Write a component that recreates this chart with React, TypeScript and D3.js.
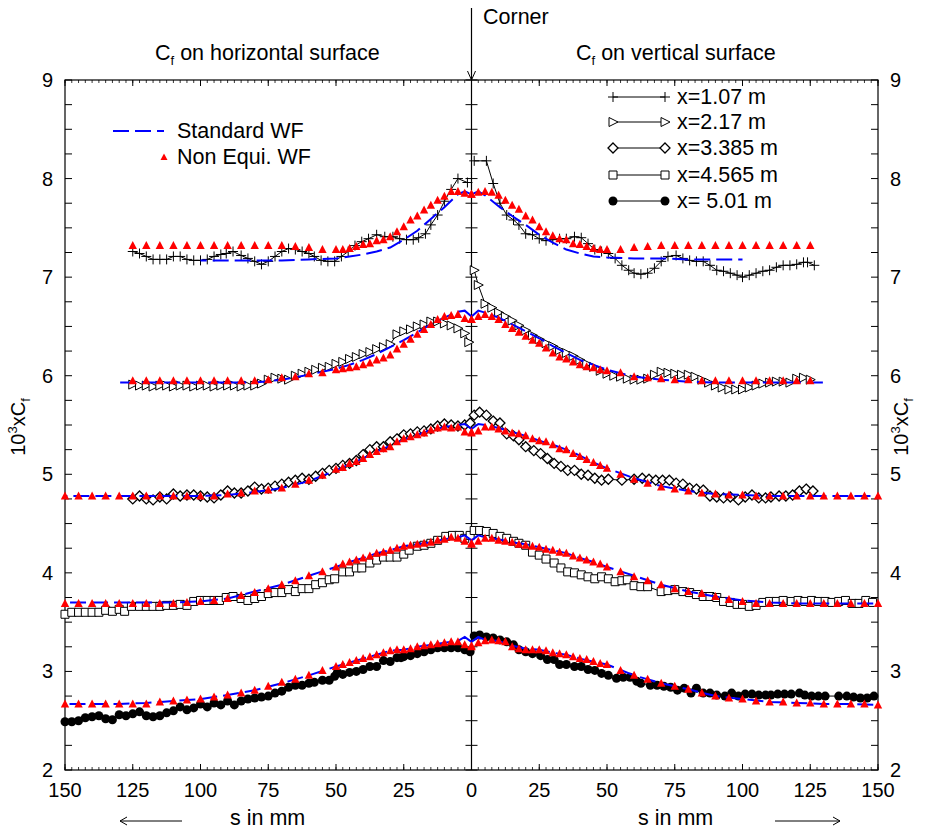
import React from 'react'
import * as d3 from 'd3'

// s positions (mm from the corner) of the Non Equi. WF points
const sNeq = [0, 2.5, 5, 7.5, 10, 12.5, 15, 17.5, 20, 22.5, 25, 27.5, 30, 32.5, 35, 37.5, 40, 42.5, 45, 47.5,
  50, 55, 60, 65, 70, 75, 80, 85, 90, 95, 100, 105, 110, 115, 120, 125, 130, 135, 140, 145, 150]
// s positions of the Standard WF curve
const sStd = [0, 2.5, 5, 10, 15, 20, 25, 30, 35, 40, 45, 50, 60, 70, 80, 90, 100, 110, 120, 130, 140, 150]

// Non Equi. WF (L = horizontal surface, R = vertical surface)
const neq1L = [7.84, 7.85, 7.87, 7.87, 7.82, 7.78, 7.73, 7.68, 7.62, 7.58, 7.51, 7.46, 7.41, 7.38, 7.37, 7.34, 7.33, 7.31, 7.29, 7.28,
  7.28, 7.28, 7.30, 7.31, 7.32, 7.32, 7.32, 7.32, 7.32, 7.32, 7.32, 7.32, 7.32, 7.32, 7.32, 7.32]
const neq1R = [7.84, 7.86, 7.87, 7.86, 7.83, 7.78, 7.73, 7.69, 7.62, 7.58, 7.51, 7.46, 7.42, 7.39, 7.38, 7.34, 7.33, 7.31, 7.29, 7.28,
  7.28, 7.28, 7.30, 7.31, 7.32, 7.32, 7.32, 7.32, 7.32, 7.32, 7.32, 7.32, 7.32, 7.32, 7.32, 7.32]
const neq2L = [6.57, 6.58, 6.62, 6.61, 6.60, 6.57, 6.52, 6.47, 6.42, 6.37, 6.32, 6.27, 6.21, 6.18, 6.16, 6.13, 6.11, 6.09, 6.08, 6.07,
  6.06, 6.03, 6.02, 5.99, 5.98, 5.96, 5.95, 5.95, 5.95, 5.95, 5.95, 5.95, 5.95, 5.95, 5.95, 5.95]
const neq2R = [6.57, 6.60, 6.62, 6.60, 6.57, 6.52, 6.48, 6.44, 6.40, 6.36, 6.33, 6.28, 6.23, 6.19, 6.17, 6.14, 6.11, 6.09, 6.08, 6.06,
  6.05, 6.03, 5.99, 5.98, 5.97, 5.96, 5.96, 5.95, 5.95, 5.95, 5.95, 5.95, 5.95, 5.95, 5.95, 5.95]
const neq3L = [5.42, 5.43, 5.48, 5.47, 5.48, 5.47, 5.45, 5.42, 5.40, 5.38, 5.36, 5.33, 5.28, 5.26, 5.23, 5.20, 5.16, 5.13, 5.11, 5.07,
  5.05, 4.99, 4.94, 4.90, 4.86, 4.84, 4.83, 4.81, 4.80, 4.78, 4.78, 4.78, 4.78, 4.78, 4.78, 4.78, 4.78, 4.78, 4.78, 4.78, 4.78]
const neq3R = [5.43, 5.44, 5.48, 5.48, 5.46, 5.44, 5.42, 5.41, 5.39, 5.36, 5.34, 5.33, 5.30, 5.26, 5.25, 5.21, 5.18, 5.15, 5.12, 5.09,
  5.06, 5.00, 4.95, 4.91, 4.87, 4.85, 4.83, 4.81, 4.80, 4.79, 4.79, 4.78, 4.78, 4.78, 4.78, 4.78, 4.78, 4.78, 4.78, 4.78, 4.78]
const neq4L = [4.29, 4.32, 4.35, 4.36, 4.34, 4.33, 4.31, 4.30, 4.29, 4.28, 4.27, 4.25, 4.23, 4.21, 4.20, 4.17, 4.15, 4.13, 4.11, 4.09,
  4.06, 4.01, 3.97, 3.92, 3.88, 3.84, 3.80, 3.77, 3.74, 3.72, 3.71, 3.70, 3.69, 3.69, 3.69, 3.69, 3.69, 3.69, 3.69, 3.69, 3.69]
const neq4R = [4.30, 4.32, 4.35, 4.35, 4.33, 4.32, 4.31, 4.29, 4.28, 4.27, 4.26, 4.24, 4.23, 4.21, 4.20, 4.17, 4.15, 4.13, 4.11, 4.09,
  4.06, 4.01, 3.96, 3.92, 3.88, 3.84, 3.81, 3.79, 3.76, 3.73, 3.71, 3.69, 3.69, 3.69, 3.69, 3.69, 3.69, 3.69, 3.69, 3.69, 3.69]
const neq5L = [3.25, 3.27, 3.30, 3.30, 3.29, 3.28, 3.27, 3.26, 3.25, 3.23, 3.22, 3.22, 3.21, 3.19, 3.17, 3.15, 3.13, 3.11, 3.09, 3.07,
  3.05, 3.01, 2.96, 2.92, 2.89, 2.85, 2.81, 2.78, 2.76, 2.74, 2.72, 2.71, 2.70, 2.69, 2.67, 2.67, 2.67, 2.67, 2.67, 2.67, 2.67]
const neq5R = [3.26, 3.29, 3.31, 3.32, 3.31, 3.30, 3.25, 3.23, 3.22, 3.22, 3.22, 3.21, 3.19, 3.18, 3.17, 3.15, 3.13, 3.12, 3.10, 3.08,
  3.07, 3.01, 2.96, 2.92, 2.88, 2.85, 2.82, 2.78, 2.75, 2.73, 2.72, 2.70, 2.69, 2.69, 2.68, 2.68, 2.67, 2.67, 2.67, 2.67, 2.66]

// Standard WF
const std1L = [7.84, 7.87, 7.84, 7.71, 7.59, 7.47, 7.38, 7.30, 7.26, 7.23, 7.21, 7.19, 7.18, 7.17, 7.17, 7.17, 7.17]
const std1R = [7.84, 7.87, 7.83, 7.72, 7.62, 7.53, 7.43, 7.35, 7.28, 7.24, 7.21, 7.20, 7.19, 7.19, 7.18, 7.18, 7.18]
const std2L = [6.60, 6.66, 6.65, 6.59, 6.52, 6.44, 6.36, 6.29, 6.22, 6.16, 6.11, 6.07, 6.01, 5.96, 5.93, 5.93, 5.93, 5.93, 5.93, 5.93]
const std2R = [6.60, 6.66, 6.64, 6.59, 6.52, 6.45, 6.38, 6.30, 6.23, 6.16, 6.11, 6.06, 5.99, 5.96, 5.94, 5.93, 5.93, 5.93, 5.93, 5.93]
const std3L = [5.46, 5.51, 5.50, 5.48, 5.45, 5.40, 5.35, 5.29, 5.23, 5.16, 5.10, 5.04, 4.93, 4.86, 4.82, 4.79, 4.78, 4.78, 4.78, 4.78, 4.78, 4.78]
const std3R = [5.46, 5.51, 5.50, 5.47, 5.43, 5.39, 5.34, 5.30, 5.25, 5.19, 5.12, 5.06, 4.96, 4.88, 4.83, 4.80, 4.79, 4.78, 4.78, 4.78, 4.78, 4.78]
const std4L = [4.33, 4.38, 4.36, 4.34, 4.31, 4.29, 4.27, 4.23, 4.20, 4.15, 4.11, 4.06, 3.97, 3.88, 3.81, 3.74, 3.71, 3.70, 3.70, 3.70, 3.70, 3.70]
const std4R = [4.33, 4.38, 4.36, 4.34, 4.31, 4.29, 4.26, 4.23, 4.20, 4.15, 4.11, 4.06, 3.97, 3.88, 3.81, 3.76, 3.72, 3.70, 3.69, 3.69, 3.69, 3.69]
const std5L = [3.30, 3.35, 3.31, 3.29, 3.27, 3.25, 3.22, 3.21, 3.17, 3.13, 3.09, 3.05, 2.96, 2.88, 2.81, 2.76, 2.72, 2.70, 2.68, 2.67, 2.67, 2.67]
const std5R = [3.30, 3.35, 3.32, 3.31, 3.26, 3.23, 3.22, 3.19, 3.17, 3.13, 3.10, 3.07, 2.96, 2.88, 2.82, 2.75, 2.72, 2.69, 2.68, 2.67, 2.67, 2.66]

// measured Cf, [s in mm, 10^3 Cf]
const m1L = [[125, 7.26], [122.5, 7.24], [120, 7.21], [117.5, 7.18], [115, 7.18], [112.5, 7.18], [110, 7.21], [107.5, 7.21], [105, 7.18],
  [102.5, 7.17], [100, 7.17], [97.5, 7.18], [95, 7.21], [92.5, 7.23], [90.5, 7.24], [88, 7.26], [85, 7.22], [82.5, 7.19], [80, 7.16],
  [77.5, 7.13], [75, 7.16], [72.5, 7.21], [70, 7.26], [67.5, 7.29], [65, 7.28], [62.5, 7.26], [60, 7.24], [58, 7.21], [55.5, 7.17],
  [53, 7.16], [50.5, 7.16], [48, 7.21], [45.5, 7.26], [43, 7.32], [40.5, 7.36], [38, 7.39], [35, 7.43], [32, 7.41], [29, 7.41],
  [26.5, 7.39], [24, 7.38], [21.5, 7.38], [19.5, 7.40], [17, 7.44], [15, 7.53], [12.5, 7.63], [10, 7.77], [7.5, 7.89], [5, 8.00], [1.5, 7.96]]
const m1R = [[1, 8.18], [5.5, 8.18], [8, 7.95], [10.5, 7.75], [13, 7.63], [15.5, 7.58], [17.5, 7.53], [20, 7.44], [22.5, 7.43], [25, 7.39],
  [27.5, 7.37], [30, 7.38], [32.5, 7.39], [35, 7.39], [38, 7.41], [40.5, 7.40], [43, 7.34], [45.5, 7.28], [48, 7.26], [50.5, 7.24],
  [53, 7.19], [55.5, 7.12], [58, 7.07], [60, 7.04], [62.5, 7.03], [65, 7.04], [67.5, 7.09], [70, 7.16], [72.5, 7.21], [75.5, 7.22],
  [78, 7.19], [80.5, 7.17], [83, 7.16], [85.5, 7.16], [88, 7.12], [90.5, 7.07], [93, 7.06], [95.5, 7.04], [98, 7.02], [100, 7.00],
  [102.5, 7.02], [105, 7.04], [107.5, 7.06], [110, 7.07], [112.5, 7.10], [115, 7.12], [117.5, 7.12], [120, 7.13], [122.5, 7.15],
  [124, 7.15], [126.5, 7.12]]
const m2L = [[125, 5.91], [122.5, 5.90], [120, 5.90], [117.5, 5.89], [115, 5.90], [112.5, 5.90], [110, 5.89], [107.5, 5.90], [105, 5.90],
  [102.5, 5.89], [100, 5.90], [97.5, 5.90], [95, 5.89], [92.5, 5.90], [90, 5.90], [87.5, 5.90], [85, 5.89], [82.5, 5.90], [80, 5.90],
  [77.5, 5.92], [75, 5.96], [72.5, 5.98], [70, 5.97], [67.5, 5.96], [65, 6.00], [62.5, 6.02], [60, 6.04], [57.5, 6.06], [55, 6.08],
  [52.5, 6.09], [50, 6.12], [47.5, 6.14], [45, 6.17], [42.5, 6.19], [40, 6.22], [37.5, 6.24], [35, 6.27], [32.5, 6.29], [30, 6.32],
  [27.5, 6.42], [25, 6.45], [22.5, 6.47], [20, 6.50], [17.5, 6.52], [15, 6.55], [12.5, 6.55], [10, 6.53], [7.5, 6.51], [5, 6.48],
  [2.5, 6.43], [1, 6.34]]
const m2R = [[1, 7.07], [2.5, 6.92], [5, 6.73], [7.5, 6.69], [10, 6.64], [12.5, 6.60], [15, 6.56], [17.5, 6.51], [20, 6.46], [22.5, 6.41],
  [25, 6.37], [27.5, 6.33], [30, 6.30], [32.5, 6.26], [35, 6.23], [37.5, 6.20], [40, 6.16], [42.5, 6.12], [45, 6.09], [47.5, 6.05],
  [50, 6.02], [52.5, 6.00], [55, 5.99], [57.5, 5.97], [60, 5.96], [62.5, 5.96], [65, 5.97], [67.5, 6.01], [70, 6.04], [72.5, 6.03],
  [75, 6.02], [77.5, 6.01], [80, 6.01], [82.5, 5.99], [85, 5.96], [87.5, 5.93], [90, 5.90], [92.5, 5.88], [95, 5.86], [97.5, 5.86],
  [100, 5.86], [102.5, 5.88], [105, 5.90], [107.5, 5.92], [110, 5.93], [112.5, 5.94], [115, 5.94], [117.5, 5.93], [120, 5.97],
  [122.5, 5.98], [125, 5.96]]
const m3L = [[125, 4.75], [122.5, 4.78], [120, 4.75], [117.5, 4.74], [115, 4.77], [112.5, 4.75], [110, 4.80], [107.5, 4.78], [105, 4.79],
  [102.5, 4.79], [100, 4.78], [97.5, 4.77], [95, 4.76], [92.5, 4.79], [90, 4.83], [87.5, 4.81], [85, 4.81], [82.5, 4.83], [80, 4.87],
  [77.5, 4.85], [75, 4.86], [72.5, 4.88], [70, 4.90], [67.5, 4.92], [65, 4.94], [62.5, 4.96], [60, 4.95], [57.5, 4.98], [55, 5.01],
  [52.5, 5.04], [50, 5.06], [47.5, 5.09], [45, 5.11], [42.5, 5.14], [40, 5.20], [37.5, 5.25], [35, 5.28], [32.5, 5.28], [30, 5.33],
  [27.5, 5.36], [25, 5.40], [22.5, 5.41], [20, 5.43], [17.5, 5.44], [15, 5.46], [12.5, 5.49], [10, 5.51], [7.5, 5.50], [5, 5.49],
  [2.5, 5.50], [0.5, 5.52]]
const m3R = [[1, 5.60], [3, 5.63], [5.5, 5.60], [8, 5.54], [10.5, 5.52], [13, 5.41], [15.5, 5.39], [17.5, 5.35], [20, 5.28], [23, 5.24],
  [25.5, 5.21], [28, 5.16], [30.5, 5.11], [33, 5.08], [35.5, 5.04], [38, 5.04], [40.5, 5.00], [43, 4.99], [45.5, 4.96], [48, 4.94],
  [50.5, 4.95], [55.5, 4.94], [60, 4.95], [63, 4.96], [65.5, 4.95], [68, 4.94], [70.5, 4.94], [73, 4.94], [75.5, 4.91], [78, 4.90],
  [80.5, 4.86], [83, 4.85], [85.5, 4.84], [88, 4.78], [90.5, 4.77], [93, 4.76], [95.5, 4.77], [98.5, 4.74], [101, 4.77], [103.5, 4.79],
  [106, 4.76], [108.5, 4.76], [110.5, 4.77], [113.5, 4.78], [116, 4.78], [118.5, 4.79], [121, 4.83], [123.5, 4.85], [126, 4.83]]
const m4L = [[150, 3.58], [147.5, 3.60], [145, 3.60], [142.5, 3.60], [140, 3.60], [137.5, 3.60], [135, 3.62], [132.5, 3.61], [130, 3.63],
  [128, 3.61], [125.5, 3.66], [122.5, 3.66], [120, 3.66], [117.5, 3.66], [115, 3.66], [112.5, 3.67], [110, 3.67], [107.5, 3.68],
  [105, 3.67], [102.5, 3.71], [100, 3.72], [97.5, 3.72], [95, 3.72], [93, 3.72], [90.5, 3.75], [88, 3.76], [85, 3.74], [82.5, 3.72],
  [80, 3.74], [77.5, 3.76], [75, 3.79], [72.5, 3.80], [70, 3.80], [67.5, 3.83], [65, 3.81], [62.5, 3.84], [60, 3.84], [57.5, 3.88],
  [55, 3.90], [52.5, 3.93], [50.5, 3.94], [47.5, 4.01], [45, 4.01], [42.5, 4.05], [40.5, 4.05], [37.5, 4.10], [35, 4.13], [32.5, 4.16],
  [30, 4.16], [27.5, 4.16], [25, 4.19], [23, 4.23], [20, 4.27], [17.5, 4.28], [15, 4.30], [12.5, 4.33], [9.5, 4.37], [7, 4.38],
  [4.5, 4.38], [2.5, 4.35], [0.5, 4.38]]
const m4R = [[1, 4.43], [3, 4.43], [5.5, 4.42], [8, 4.40], [10.5, 4.37], [13, 4.35], [15.5, 4.32], [17.5, 4.30], [20, 4.28], [22.5, 4.21],
  [25, 4.18], [27.5, 4.14], [30.5, 4.10], [33, 4.05], [35.5, 4.01], [38, 4.00], [40.5, 3.98], [43, 3.96], [45.5, 3.94], [48, 3.96],
  [50.5, 3.94], [53, 3.91], [55.5, 3.92], [57.5, 3.93], [60, 3.87], [62.5, 3.86], [65, 3.86], [70, 3.81], [72.5, 3.82], [75, 3.83],
  [78, 3.81], [80.5, 3.80], [83, 3.78], [85.5, 3.76], [88, 3.76], [90.5, 3.75], [93, 3.71], [95.5, 3.70], [98, 3.68], [100, 3.68],
  [102.5, 3.66], [105, 3.67], [107.5, 3.70], [110, 3.71], [112.5, 3.71], [115, 3.72], [118, 3.71], [120.5, 3.72], [123, 3.71],
  [125.5, 3.72], [128, 3.71], [130.5, 3.71], [133, 3.70], [135.5, 3.71], [138, 3.72], [140.5, 3.69], [143, 3.69], [145.5, 3.72], [148, 3.70]]
const m5L = [[150, 2.49], [147.5, 2.49], [145, 2.50], [142.5, 2.53], [140, 2.54], [137.5, 2.55], [135, 2.52], [132.5, 2.51], [130, 2.56],
  [127.5, 2.55], [125, 2.57], [122.5, 2.59], [120, 2.55], [117.5, 2.54], [115, 2.55], [112.5, 2.58], [110, 2.60], [107.5, 2.64],
  [105, 2.61], [102.5, 2.63], [100, 2.67], [97.5, 2.64], [95, 2.68], [92.5, 2.66], [90, 2.70], [87.5, 2.66], [85, 2.70], [82.5, 2.72],
  [80, 2.73], [77.5, 2.74], [75, 2.75], [72.5, 2.78], [70, 2.80], [67.5, 2.84], [65, 2.86], [62.5, 2.86], [60, 2.88], [58, 2.89],
  [55, 2.91], [52.5, 2.91], [50.5, 2.95], [49.5, 2.99], [47.5, 2.97], [45, 2.99], [42.5, 3.00], [40, 3.02], [37.5, 3.05], [35, 3.05],
  [32.5, 3.11], [30, 3.10], [27.5, 3.14], [26, 3.14], [25, 3.15], [22.5, 3.16], [20, 3.18], [17.5, 3.20], [15, 3.22], [12.5, 3.24],
  [10, 3.24], [7.5, 3.24], [5, 3.24], [2.5, 3.22], [0.5, 3.20]]
const m5R = [[1, 3.36], [3, 3.37], [5.5, 3.35], [8, 3.34], [10.5, 3.32], [13, 3.30], [15.5, 3.27], [17.5, 3.22], [20, 3.20], [22.5, 3.18],
  [25.5, 3.16], [28, 3.12], [30.5, 3.12], [32.5, 3.07], [35, 3.07], [38, 3.05], [40.5, 3.05], [43, 3.02], [45.5, 3.01], [48, 2.98],
  [50.5, 2.96], [53.5, 2.93], [56, 2.94], [58.5, 2.94], [61, 2.90], [62.5, 2.88], [66, 2.86], [68.5, 2.86], [71, 2.85], [73.5, 2.84],
  [76, 2.81], [78.5, 2.83], [81, 2.78], [83, 2.83], [85.5, 2.78], [88, 2.78], [90.5, 2.76], [93.5, 2.75], [96, 2.78], [98.5, 2.75],
  [101, 2.77], [103.5, 2.77], [106, 2.76], [108.5, 2.76], [110.5, 2.76], [113, 2.77], [115.5, 2.77], [118, 2.77], [121, 2.78],
  [123, 2.76], [125.5, 2.75], [128, 2.75], [130.5, 2.75], [135.5, 2.75], [138.5, 2.75], [141, 2.74], [143.5, 2.73], [146, 2.73], [148.5, 2.75]]

const seriesNames = ['x=1.07 m', 'x=2.17 m', 'x=3.385 m', 'x=4.565 m', 'x= 5.01 m']
const xTickLabels = [150, 125, 100, 75, 50, 25, 0, 25, 50, 75, 100, 125, 150]
const yTickLabels = [2, 3, 4, 5, 6, 7, 8, 9]

const FONT = '"Liberation Sans", Arial, Helvetica, sans-serif'
const left = 65, right = 878, top = 80, bottom = 770
const TXT = 21.5

const x = d3.scaleLinear().domain([-150, 150]).range([left, right])
const y = d3.scaleLinear().domain([2, 9]).range([bottom, top])

const markerPaths = [
  'M-5,0H5M0,-5V5',
  'M-4,-4.5L5,0L-4,4.5Z',
  'M0,-5L5,0L0,5L-5,0Z',
  'M-4,-4H4V4H-4Z',
  '',
]

const Marker = ({ kind, cx, cy }: { kind: number, cx: number, cy: number }) => {
  if (kind === 4) return <circle cx={cx} cy={cy} r={4.5} fill="#000" />
  return <path d={markerPaths[kind]} transform={`translate(${cx},${cy})`} fill={kind === 0 ? 'none' : '#fff'}
    stroke="#000" strokeWidth={kind === 2 ? 1.3 : 1} />
}

const lineGen = d3.line<number[]>().x(d => d[0]).y(d => d[1])

const App = () => {
  const measured = [[m1L, m1R], [m2L, m2R], [m3L, m3R], [m4L, m4R], [m5L, m5R]]
  const stds = [[std1L, std1R], [std2L, std2R], [std3L, std3R], [std4L, std4R], [std5L, std5R]]
  const neqs = [[neq1L, neq1R], [neq2L, neq2R], [neq3L, neq3R], [neq4L, neq4R], [neq5L, neq5R]]
  // side: -1 horizontal (left), +1 vertical (right)
  const sides = [-1, 1]

  const yMinor = d3.range(2, 9.001, 0.25)
  const xMinor = d3.range(-150, 150.001, 2.5)
  const xMajor = d3.range(-150, 150.001, 25)

  const tri = 'M0,-4.5L4.2,3.5L-4.2,3.5Z'

  return (
    <svg width={927} height={832} style={{ display: 'block', position: 'absolute', left: 0, top: 0, background: '#fff' }}
      fontFamily={FONT}>
      <rect x={0} y={0} width={927} height={832} fill="#fff" />
      {/* frame */}
      <rect x={left} y={top} width={right - left} height={bottom - top} fill="none" stroke="#000" strokeWidth={1.2} />
      <line x1={x(0)} x2={x(0)} y1={8} y2={bottom} stroke="#000" strokeWidth={1.2} />
      <path d={`M${x(0) - 4},${top - 9}L${x(0)},${top}L${x(0) + 4},${top - 9}`} fill="none" stroke="#000" strokeWidth={1} />

      {/* y ticks */}
      {yMinor.map(v => (
        <g key={'yt' + v}>
          <line x1={left} x2={left + 7} y1={y(v)} y2={y(v)} stroke="#000" />
          <line x1={right - 7} x2={right} y1={y(v)} y2={y(v)} stroke="#000" />
          <line x1={x(0) - 6} x2={x(0) + 6} y1={y(v)} y2={y(v)} stroke="#000" />
        </g>
      ))}
      {/* x ticks */}
      {xMinor.map(s => (
        <g key={'xm' + s}>
          <line x1={x(s)} x2={x(s)} y1={top} y2={top + 3} stroke="#000" strokeWidth={0.8} />
          <line x1={x(s)} x2={x(s)} y1={bottom} y2={bottom - 3} stroke="#000" strokeWidth={0.8} />
        </g>
      ))}
      {xMajor.map(s => (
        <g key={'xM' + s}>
          <line x1={x(s)} x2={x(s)} y1={top} y2={top + 6} stroke="#000" />
          <line x1={x(s)} x2={x(s)} y1={bottom} y2={bottom - 6} stroke="#000" />
        </g>
      ))}
      {xTickLabels.map((lab, i) => (
        <text key={'xl' + i} x={x(xMajor[i])} y={797} fontSize={20} textAnchor="middle">{lab}</text>
      ))}
      {yTickLabels.map(v => (
        <g key={'yl' + v}>
          <text x={53} y={y(v) + 7} fontSize={20} textAnchor="end">{v}</text>
          <text x={890} y={y(v) + 7} fontSize={20}>{v}</text>
        </g>
      ))}

      {/* axis labels */}
      {[25, 908].map(px => (
        <text key={'ya' + px} transform={`translate(${px},427) rotate(-90)`} fontSize={20} textAnchor="middle">
          10<tspan dy={-8} fontSize={13}>3</tspan><tspan dy={8}>xC</tspan><tspan dy={5} fontSize={13}>f</tspan>
        </text>
      ))}
      <text x={230} y={825} fontSize={TXT}>s in mm</text>
      <text x={638} y={825} fontSize={TXT}>s in mm</text>
      <line x1={120} x2={182} y1={821} y2={821} stroke="#000" />
      <path d="M127,817L120,821L127,825" fill="none" stroke="#000" />
      <line x1={775} x2={840} y1={821} y2={821} stroke="#000" />
      <path d="M833,817L840,821L833,825" fill="none" stroke="#000" />

      <text x={155} y={60} fontSize={TXT}>C<tspan dy={5} fontSize={13}>f</tspan><tspan dy={-5}> on horizontal surface</tspan></text>
      <text x={576} y={60} fontSize={TXT}>C<tspan dy={5} fontSize={13}>f</tspan><tspan dy={-5}> on vertical surface</tspan></text>
      <text x={483} y={24} fontSize={TXT}>Corner</text>

      {/* measured data */}
      {measured.map((pair, k) => (
        <g key={'m' + k}>
          {pair.map((pts, j) => {
            const xy = pts.map(p => [x(sides[j] * p[0]), y(p[1])])
            return (
              <g key={j}>
                <path d={lineGen(xy) || ''} fill="none" stroke="#000" strokeWidth={1} />
                {xy.map((p, i) => <Marker key={i} kind={k} cx={p[0]} cy={p[1]} />)}
              </g>
            )
          })}
        </g>
      ))}

      {/* Standard WF */}
      {stds.map((pair, k) => (
        <g key={'s' + k}>
          {pair.map((vals, j) => {
            const xy = vals.map((v, i) => [x(sides[j] * sStd[i]), y(v)])
            return <path key={j} d={lineGen(xy) || ''} fill="none" stroke="#0000ff" strokeWidth={2} strokeDasharray="16,6" />
          })}
        </g>
      ))}

      {/* Non Equi. WF */}
      {neqs.map((pair, k) => (
        <g key={'n' + k}>
          {pair.map((vals, j) => vals.map((v, i) => (
            <path key={j + '-' + i} d={tri} transform={`translate(${x(sides[j] * sNeq[i])},${y(v)})`} fill="#ff0000" />
          )))}
        </g>
      ))}

      {/* left legend */}
      <line x1={113} x2={164} y1={131} y2={131} stroke="#0000ff" strokeWidth={2} strokeDasharray="16,6" />
      <text x={177} y={138} fontSize={TXT}>Standard WF</text>
      <path d="M0,-3.5L3.5,3L-3.5,3Z" transform="translate(164,157)" fill="#ff0000" />
      <text x={177} y={164} fontSize={TXT}>Non Equi. WF</text>

      {/* right legend */}
      {seriesNames.map((name, k) => {
        const ly = [97, 122, 148, 175, 201][k]
        return (
          <g key={'lg' + k}>
            <line x1={613} x2={665} y1={ly} y2={ly} stroke="#000" />
            <Marker kind={k} cx={613} cy={ly} />
            <Marker kind={k} cx={665} cy={ly} />
            <text x={677} y={ly + 7} fontSize={TXT}>{name}</text>
          </g>
        )
      })}
    </svg>
  )
}

export default App
